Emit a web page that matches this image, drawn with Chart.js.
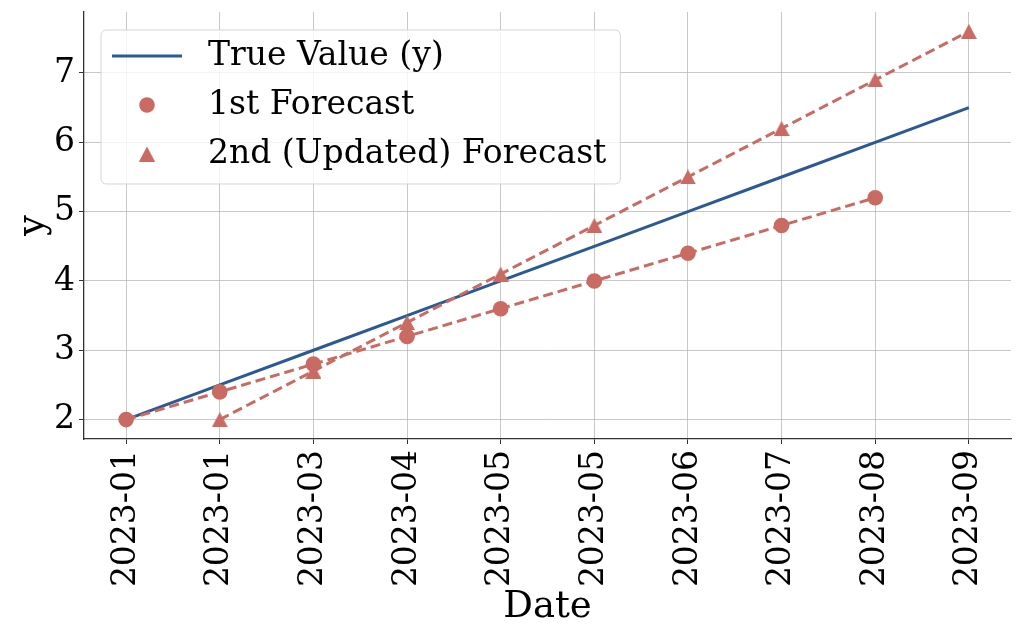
<!DOCTYPE html>
<html><head><meta charset="utf-8">
<script src="https://cdn.jsdelivr.net/npm/chart.js@4"></script>
<style>html,body{margin:0;padding:0;background:#fff}#wrap{width:1024px;height:640px}</style>
</head><body><div id="wrap"><canvas id="c" width="1024" height="640"></canvas></div>
<script>
const dateLabels = ['2023-01','2023-01','2023-03','2023-04','2023-05','2023-05','2023-06','2023-07','2023-08','2023-09'];
const trueValues = [2.0, 2.5, 3.0, 3.5, 4.0, 4.5, 5.0, 5.5, 6.0, 6.5];
const forecast1 = [2.0, 2.4, 2.8, 3.2, 3.6, 4.0, 4.4, 4.8, 5.2, null];
const forecast2 = [null, 2.0, 2.7, 3.4, 4.1, 4.8, 5.5, 6.2, 6.9, 7.6];
const yTicks = [2, 3, 4, 5, 6, 7];
const seriesNames = ['True Value (y)', '1st Forecast', '2nd (Updated) Forecast'];

const BLUE = '#2a5994';
const RED = '#c96b63';
const FONT = "'DejaVu Serif', serif";

function toPoints(arr) {
  const out = [];
  arr.forEach((v, i) => { if (v !== null) out.push({x: i, y: v}); });
  return out;
}

// matplotlib-like '^' marker: bounding box centred on the point
function makeTriangle(w, h, color) {
  const c = document.createElement('canvas');
  c.width = w; c.height = h;
  const g = c.getContext('2d');
  g.fillStyle = color;
  g.beginPath();
  g.moveTo(w / 2, 0); g.lineTo(w, h); g.lineTo(0, h);
  g.closePath(); g.fill();
  return c;
}
const triMarker = makeTriangle(16, 15, RED);

const legendPlugin = {
  id: 'insideLegend',
  afterDraw(chart) {
    const ctx = chart.ctx;
    const ca = chart.chartArea;
    ctx.save();
    ctx.font = '33px ' + FONT;
    const maxW = Math.max(...seriesNames.map(s => ctx.measureText(s).width));
    const x0 = ca.left + 17, y0 = ca.top + 18;
    const textX = x0 + 107;
    const w = textX - x0 + maxW + 14, h = 154;
    const r = 6;
    ctx.beginPath();
    ctx.moveTo(x0 + r, y0);
    ctx.lineTo(x0 + w - r, y0); ctx.quadraticCurveTo(x0 + w, y0, x0 + w, y0 + r);
    ctx.lineTo(x0 + w, y0 + h - r); ctx.quadraticCurveTo(x0 + w, y0 + h, x0 + w - r, y0 + h);
    ctx.lineTo(x0 + r, y0 + h); ctx.quadraticCurveTo(x0, y0 + h, x0, y0 + h - r);
    ctx.lineTo(x0, y0 + r); ctx.quadraticCurveTo(x0, y0, x0 + r, y0);
    ctx.closePath();
    ctx.fillStyle = 'rgba(255,255,255,0.8)';
    ctx.fill();
    ctx.strokeStyle = 'rgba(204,204,204,0.8)';
    ctx.lineWidth = 1;
    ctx.stroke();

    const rows = [y0 + 26, y0 + 75, y0 + 124];
    const hx = x0 + 46;
    ctx.strokeStyle = BLUE; ctx.lineWidth = 3;
    ctx.beginPath(); ctx.moveTo(x0 + 11, rows[0]); ctx.lineTo(x0 + 81, rows[0]); ctx.stroke();
    ctx.fillStyle = RED;
    ctx.beginPath(); ctx.arc(hx, rows[1], 7.8, 0, Math.PI * 2); ctx.fill();
    ctx.drawImage(triMarker, hx - triMarker.width / 2, rows[2] - triMarker.height / 2);

    ctx.fillStyle = '#000';
    ctx.textBaseline = 'middle';
    ctx.textAlign = 'left';
    seriesNames.forEach((s, i) => ctx.fillText(s, textX, rows[i]));
    ctx.restore();
  }
};

new Chart(document.getElementById('c'), {
  type: 'line',
  data: {
    datasets: [
      {
        label: seriesNames[0], data: toPoints(trueValues),
        borderColor: BLUE, borderWidth: 3, pointRadius: 0, order: 3, tension: 0
      },
      {
        label: seriesNames[1], data: toPoints(forecast1),
        borderColor: RED, borderWidth: 3, borderDash: [10, 5],
        pointStyle: 'circle', pointRadius: 7.8, pointBackgroundColor: RED, pointBorderWidth: 0,
        order: 2, tension: 0
      },
      {
        label: seriesNames[2], data: toPoints(forecast2),
        borderColor: RED, borderWidth: 3, borderDash: [10, 5],
        pointStyle: triMarker, pointRadius: 8, pointBackgroundColor: RED, pointBorderWidth: 0,
        order: 1, tension: 0
      }
    ]
  },
  options: {
    responsive: false,
    animation: false,
    layout: {padding: {top: 12, right: 13, left: 0, bottom: 0}},
    plugins: {legend: {display: false}, tooltip: {enabled: false}},
    scales: {
      x: {
        type: 'linear', min: -0.45, max: 9.45,
        afterBuildTicks: s => { s.ticks = dateLabels.map((_, i) => ({value: i})); },
        afterFit: s => { s.height = 201; s.paddingLeft = 0; s.paddingRight = 0; },
        ticks: {
          callback: v => dateLabels[v],
          minRotation: 90, maxRotation: 90, autoSkip: false,
          font: {family: FONT, size: 33}, color: '#000', padding: 6
        },
        grid: {color: 'rgba(176,176,176,0.7)', lineWidth: 1, tickColor: '#333', tickLength: 5, tickWidth: 1},
        border: {display: true, color: '#333', width: 1.3},
        title: {display: true, text: 'Date', font: {family: FONT, size: 37}, color: '#000', padding: 10}
      },
      y: {
        type: 'linear', min: 1.72, max: 7.88,
        afterBuildTicks: s => { s.ticks = yTicks.map(v => ({value: v})); },
        afterFit: s => { s.width = 84; s.paddingTop = 0; s.paddingBottom = 0; },
        ticks: {
          font: {family: FONT, size: 33}, color: '#000', padding: 4
        },
        grid: {color: 'rgba(176,176,176,0.7)', lineWidth: 1, tickColor: '#333', tickLength: 5, tickWidth: 1},
        border: {display: true, color: '#333', width: 1.3},
        title: {display: true, text: 'y', font: {family: FONT, size: 37}, color: '#000', padding: 11}
      }
    }
  },
  plugins: [legendPlugin]
});
</script>
</body></html>
